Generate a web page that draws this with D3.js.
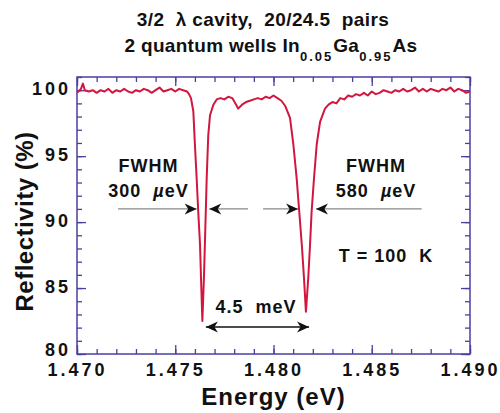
<!DOCTYPE html>
<html>
<head>
<meta charset="utf-8">
<script src="https://cdn.jsdelivr.net/npm/d3@7"></script>
<style>
  body { margin: 0; background: #fff; }
  text { font-family: "Liberation Sans", Arial, Helvetica, sans-serif; font-weight: bold; fill: #111; }
</style>
</head>
<body>
<div id="chart"></div>
<script>
// Reflectivity spectrum (energy in eV, reflectivity in %)
const energy = [
  1.4700, 1.4702, 1.4703, 1.4704, 1.4706, 1.4708, 1.4710, 1.4712, 1.4714, 1.4716,
  1.4718, 1.4720, 1.4722, 1.4724, 1.4726, 1.4728, 1.4730, 1.4732, 1.4734, 1.4736,
  1.4738, 1.4740, 1.4742, 1.4744, 1.4746, 1.4748, 1.4750, 1.4752, 1.4754, 1.4756,
  1.4757, 1.47580, 1.47592, 1.47600, 1.47609, 1.47617, 1.47626, 1.47631, 1.47638, 1.47646,
  1.47653, 1.47660, 1.47668, 1.47677, 1.47694, 1.47711, 1.4773, 1.4775, 1.4777, 1.4779,
  1.4781, 1.4782, 1.4784, 1.4786, 1.4788, 1.4790, 1.4792, 1.4794, 1.4796, 1.4798,
  1.4800, 1.4802, 1.4804, 1.4806, 1.48084, 1.48101, 1.48118, 1.48131, 1.48144, 1.48155,
  1.48165, 1.48177, 1.48186, 1.48194, 1.48206, 1.48220, 1.48237, 1.48262, 1.4828, 1.4830,
  1.4832, 1.4834, 1.4836, 1.4838, 1.4840, 1.4842, 1.4844, 1.4846, 1.4848, 1.4850,
  1.4852, 1.4854, 1.4856, 1.4858, 1.4860, 1.4862, 1.4864, 1.4866, 1.4868, 1.4870,
  1.4872, 1.4874, 1.4876, 1.4878, 1.4880, 1.4882, 1.4884, 1.4886, 1.4888, 1.4890,
  1.4892, 1.4894, 1.4896, 1.4898, 1.4900
];
const reflectivity = [
  99.8, 100.1, 100.5, 100.0, 99.9, 100.0, 99.8, 100.0, 99.9, 100.1,
  99.8, 100.0, 99.9, 100.1, 99.9, 99.8, 100.0, 99.9, 100.1, 100.0,
  99.8, 100.0, 100.2, 99.9, 100.0, 100.1, 99.9, 100.1, 100.0, 99.9,
  99.7, 99.4, 98.4, 95.9, 93.3, 90.8, 88.3, 85.8, 82.5, 85.8,
  89.5, 93.3, 96.6, 98.1, 98.9, 99.3, 99.4, 99.3, 99.5, 99.4,
  98.9, 98.6, 98.9, 99.1, 99.2, 99.3, 99.4, 99.3, 99.5, 99.4,
  99.6, 99.4, 99.2, 98.8, 97.9, 95.9, 93.3, 90.8, 88.3, 85.8,
  83.2, 85.8, 88.3, 90.8, 93.3, 95.9, 97.6, 98.6, 98.9, 99.1,
  99.0, 99.4, 99.3, 99.6, 99.5, 99.7, 99.6, 99.8, 99.6, 99.9,
  99.7, 99.8, 100.0, 99.9, 99.8, 100.0, 99.9, 100.1, 99.9, 100.0,
  100.2, 99.9, 100.1, 99.9, 100.1, 100.0, 99.9, 100.1, 100.0, 100.2,
  99.9, 100.1, 100.0, 99.8, 99.9
];

const xTicks = [1.470, 1.475, 1.480, 1.485, 1.490];
const yTicks = [80, 85, 90, 95, 100];

// annotation arrows (eV / %)
const fwhmArrows = [
  { from: 1.47209, to: 1.47609, r: 91 },
  { from: 1.47870, to: 1.47673, r: 91 },
  { from: 1.47947, to: 1.48125, r: 91 },
  { from: 1.48754, to: 1.48216, r: 91 }
];
const splitArrow = { from: 1.47656, to: 1.48181, r: 82.05 };

const labels = [
  { text: 'FWHM', e: 1.47364, r: 93.81 },
  { text: '300  \u00b5eV', e: 1.47364, r: 91.89, mu: true },
  { text: 'FWHM', e: 1.48522, r: 93.81 },
  { text: '580  \u00b5eV', e: 1.48522, r: 91.89, mu: true },
  { text: 'T = 100  K', e: 1.48573, r: 86.95 },
  { text: '4.5  meV', e: 1.47911, r: 83.1 }
];

const W = 500, H = 413;
const margin = { top: 77, right: 30, bottom: 59, left: 77 };

const svg = d3.select('#chart').append('svg')
  .attr('width', W).attr('height', H);

const x = d3.scaleLinear().domain([1.470, 1.490]).range([margin.left, W - margin.right]);
const y = d3.scaleLinear().domain([80, 101]).range([H - margin.bottom, margin.top]);

const axisColor = '#4b3f9e';
const lineColor = '#d2163f';

// arrow heads
const defs = svg.append('defs');
defs.append('marker')
  .attr('id', 'head')
  .attr('viewBox', '-13 -6 15 12')
  .attr('refX', 0).attr('refY', 0)
  .attr('markerWidth', 15).attr('markerHeight', 12)
  .attr('markerUnits', 'userSpaceOnUse')
  .attr('orient', 'auto-start-reverse')
  .append('path')
  .attr('d', 'M0,0 L-12,-5.5 L-8.5,0 L-12,5.5 Z')
  .attr('fill', '#111');

// ticks (inward, all four sides)
function styleAxis(g) {
  g.select('.domain').remove();
  g.selectAll('.tick line').attr('stroke', axisColor).attr('stroke-width', 1.3);
  g.selectAll('.tick text')
    .attr('fill', '#111')
    .style('font-size', '18px')
    .style('letter-spacing', '3px');
}

const xMinor = d3.range(1470, 1491).map(d => d / 1000);
const yMinor = d3.range(80, 102);

svg.append('g').attr('transform', `translate(0,${y(80)})`)
  .call(d3.axisBottom(x).tickValues(xMinor).tickSize(-5).tickFormat(''))
  .call(styleAxis);
svg.append('g').attr('transform', `translate(0,${y(80)})`)
  .call(d3.axisBottom(x).tickValues(xTicks).tickSize(-9).tickPadding(9).tickFormat(d3.format('.3f')))
  .call(styleAxis);
svg.append('g').attr('transform', `translate(0,${margin.top})`)
  .call(d3.axisTop(x).tickValues(xMinor).tickSize(-5).tickFormat(''))
  .call(styleAxis);
svg.append('g').attr('transform', `translate(0,${margin.top})`)
  .call(d3.axisTop(x).tickValues(xTicks).tickSize(-9).tickFormat(''))
  .call(styleAxis);

svg.append('g').attr('transform', `translate(${margin.left},0)`)
  .call(d3.axisLeft(y).tickValues(yMinor).tickSize(-5).tickFormat(''))
  .call(styleAxis);
svg.append('g').attr('transform', `translate(${margin.left},0)`)
  .call(d3.axisLeft(y).tickValues(yTicks).tickSize(-9).tickPadding(6))
  .call(styleAxis)
  .call(g => g.selectAll('.tick text').attr('dy', d => d === 80 ? '0.1em' : '0.25em'));
svg.append('g').attr('transform', `translate(${W - margin.right},0)`)
  .call(d3.axisRight(y).tickValues(yMinor).tickSize(-5).tickFormat(''))
  .call(styleAxis);
svg.append('g').attr('transform', `translate(${W - margin.right},0)`)
  .call(d3.axisRight(y).tickValues(yTicks).tickSize(-9).tickFormat(''))
  .call(styleAxis);

// frame
svg.append('rect')
  .attr('x', margin.left).attr('y', margin.top)
  .attr('width', x(1.490) - x(1.470)).attr('height', y(80) - y(101))
  .attr('fill', 'none').attr('stroke', axisColor).attr('stroke-width', 1.5);

// spectrum
const pts = energy.map((e, i) => [e, reflectivity[i]]);
svg.append('path')
  .datum(pts)
  .attr('fill', 'none')
  .attr('stroke', lineColor)
  .attr('stroke-width', 2)
  .attr('stroke-linejoin', 'round')
  .attr('d', d3.line().x(d => x(d[0])).y(d => y(d[1])));

// FWHM arrows
svg.selectAll('.fwhm')
  .data(fwhmArrows)
  .enter().append('line')
  .attr('class', 'fwhm')
  .attr('x1', d => x(d.from)).attr('x2', d => x(d.to))
  .attr('y1', d => y(d.r)).attr('y2', d => y(d.r))
  .attr('stroke', '#888').attr('stroke-width', 1.3)
  .attr('marker-end', 'url(#head)');

// splitting arrow
svg.append('line')
  .attr('x1', x(splitArrow.from)).attr('x2', x(splitArrow.to))
  .attr('y1', y(splitArrow.r)).attr('y2', y(splitArrow.r))
  .attr('stroke', '#111').attr('stroke-width', 1.6)
  .attr('marker-start', 'url(#head)')
  .attr('marker-end', 'url(#head)');

// annotation text
labels.forEach(l => {
  const t = svg.append('text')
    .attr('x', x(l.e)).attr('y', y(l.r))
    .attr('text-anchor', 'middle')
    .style('font-size', '18px')
    .style('letter-spacing', '1px')
    .style('white-space', 'pre');
  if (l.mu) {
    const parts = l.text.split('\u00b5');
    t.append('tspan').text(parts[0]);
    t.append('tspan').style('font-style', 'italic').text('\u00b5');
    t.append('tspan').text(parts[1]);
  } else {
    t.text(l.text);
  }
});

// axis titles
svg.append('text')
  .attr('x', (x(1.470) + x(1.490)) / 2).attr('y', 405)
  .attr('text-anchor', 'middle')
  .style('font-size', '24px')
  .style('letter-spacing', '1px')
  .text('Energy (eV)');

svg.append('text')
  .attr('transform', `translate(33,${(y(80) + y(101)) / 2 + 6}) rotate(-90)`)
  .attr('text-anchor', 'middle')
  .style('font-size', '24px')
  .style('letter-spacing', '0.5px')
  .text('Reflectivity (%)');

// title
svg.append('text')
  .attr('x', 263).attr('y', 26)
  .attr('text-anchor', 'middle')
  .style('font-size', '19px')
  .style('letter-spacing', '0.4px')
  .style('white-space', 'pre')
  .text('3/2  \u03bb cavity,  20/24.5  pairs');

const t2 = svg.append('text')
  .attr('x', 271).attr('y', 52)
  .attr('text-anchor', 'middle')
  .style('font-size', '19px')
  .style('letter-spacing', '0.3px');
t2.append('tspan').text('2 quantum wells In');
t2.append('tspan').attr('dy', 9).style('font-size', '13px').style('letter-spacing', '2px').text('0.05');
t2.append('tspan').attr('dy', -9).text('Ga');
t2.append('tspan').attr('dy', 9).style('font-size', '13px').style('letter-spacing', '2px').text('0.95');
t2.append('tspan').attr('dy', -9).text('As');
</script>
</body>
</html>
